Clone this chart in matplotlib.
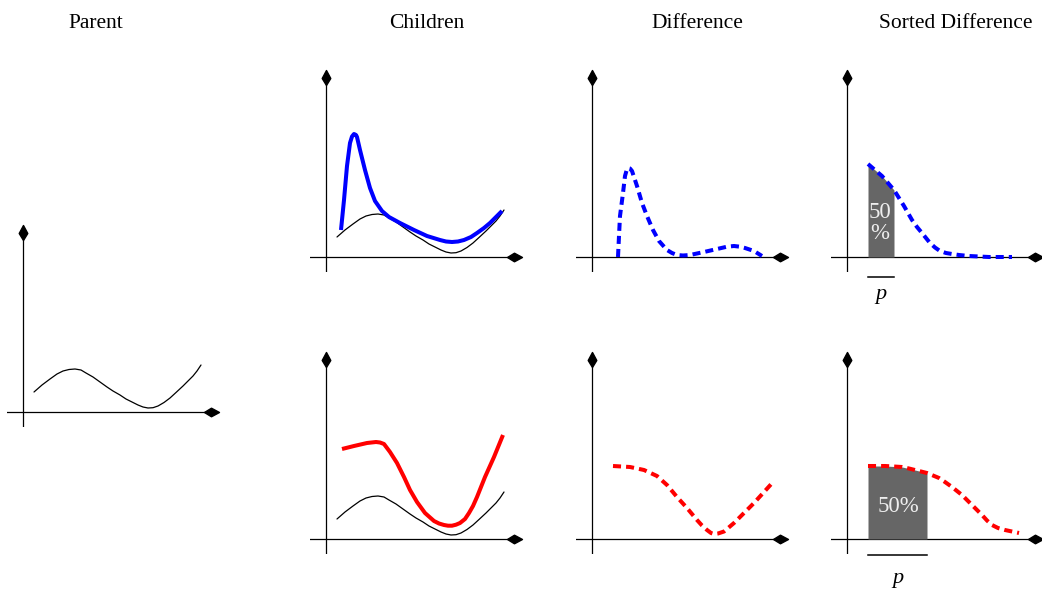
import numpy as np
import matplotlib
matplotlib.use("Agg")
import matplotlib.pyplot as plt
from matplotlib.path import Path

# ---- curve data (x along the horizontal axis, y above it) ----
parent_x = [11, 19, 27, 34, 40, 46, 52, 58, 63, 70, 77, 84, 90, 97, 103, 109, 115, 120, 125, 130, 135, 141, 147, 153, 160, 165, 170, 174, 178]
parent_y = [20, 27, 33, 38, 41, 42.5, 43, 42, 39, 35, 30, 25, 21, 17, 13, 10, 7, 5, 4, 4.3, 6, 9.5, 14, 19.5, 26, 31, 36, 41, 47]

child_blue_x = [15, 18, 21, 24, 26, 28, 30, 31, 34, 39, 44, 49, 56, 63, 74, 88, 101, 114, 120, 126, 132, 138, 145, 151, 158, 164, 170, 176]
child_blue_y = [27, 57, 91, 114, 120.5, 123, 122, 120, 107, 87, 69, 56, 46, 40, 34, 27, 21, 17, 15.5, 15, 15.5, 17, 20, 24, 29, 34, 40, 46]

child_red_x = [16, 28, 41, 50, 54, 58, 64, 71, 78, 84, 91, 99, 108, 113, 118, 122, 126, 130, 134, 139, 143, 147, 151, 159, 168, 177]
child_red_y = [90, 93, 96, 97, 96.5, 95, 87, 76, 62, 49, 37, 26, 18, 15.5, 14, 13.3, 13.3, 14.3, 16, 20, 26, 33, 42, 62, 82, 104]

diff_blue_x = [26, 27, 28, 31, 33, 35, 36, 38, 40, 45, 50, 55, 61, 67, 75, 80, 85, 91, 98, 112, 125, 135, 142, 148, 153, 162, 170]
diff_blue_y = [0, 21, 41, 64, 81, 88, 89, 88.5, 86, 71, 54, 41, 27, 16, 7, 4, 2, 1.5, 2, 5, 8, 10.3, 11, 10.3, 9, 6, 1]

diff_red_x = [21, 38, 52, 65, 75, 85, 95, 105, 110, 115, 119, 122, 126, 132, 142, 152, 162, 172, 182]
diff_red_y = [73, 72, 69, 63, 54, 42, 31, 19, 13.5, 9, 6, 5, 5.5, 7.5, 16, 26, 36, 47, 58]

sorted_blue_x = [21, 28, 35, 41, 47, 52, 57, 61, 65, 70, 75, 83, 88, 93, 99, 105, 112, 122, 142, 165]
sorted_blue_y = [93, 87, 81, 74, 67, 59, 51, 44, 37, 30, 24, 14, 9.5, 6, 4, 3, 2, 1, 0, 0]

sorted_red_x = [21, 30, 38, 47, 55, 62, 68, 74, 80, 86, 92, 98, 105, 115, 125, 135, 140, 145, 151, 158, 165, 172]
sorted_red_y = [73, 73, 73, 72.5, 72, 70.5, 69, 67.5, 66, 63.5, 61, 57, 52, 44, 34, 24, 18.5, 14, 11, 9, 7.5, 6]

# extent of the top-p share on the sorted difference
p_blue = (21, 47)
p_red = (21, 80)

titles = ["Parent", "Children", "Difference", "Sorted Difference"]
share_label = "50%"

BLUE = "#0000ff"
RED = "#ff0000"
GREY = "#666666"
SERIF = ["Liberation Serif", "DejaVu Serif"]

W, H = 1042, 589
fig = plt.figure(figsize=(W / 100, H / 100), dpi=100)

XMIN, XMAX = -16, 196
YMIN, YMAX = -15, 187

# arrow heads for the axes (kite shape, tip at the origin)
arrow_right = Path([(0, 0), (-8, 4.3), (-15, 0), (-8, -4.3), (0, 0)],
                   [Path.MOVETO, Path.LINETO, Path.LINETO, Path.LINETO, Path.CLOSEPOLY])
arrow_up = Path([(0, 0), (4.3, -8), (0, -15), (-4.3, -8), (0, 0)],
                [Path.MOVETO, Path.LINETO, Path.LINETO, Path.LINETO, Path.CLOSEPOLY])


def panel(ox, oy):
    """Axes whose origin sits at pixel (ox, oy) of the figure."""
    rect = [(ox + XMIN) / W, (H - (oy - YMIN)) / H,
            (XMAX - XMIN) / W, (YMAX - YMIN) / H]
    ax = fig.add_axes(rect)
    ax.set_xlim(XMIN, XMAX)
    ax.set_ylim(YMIN, YMAX)
    ax.axis("off")
    ax.plot([XMIN, XMAX - 4], [0, 0], color="black", lw=0.9, zorder=1)
    ax.plot([0, 0], [YMIN, YMAX - 4], color="black", lw=0.9, zorder=1)
    ax.plot([XMAX], [0], marker=arrow_right, ms=21.6, color="black",
            clip_on=False, zorder=5)
    ax.plot([0], [YMAX], marker=arrow_up, ms=21.6, color="black",
            clip_on=False, zorder=5)
    return ax


thin = dict(color="black", lw=0.9, solid_capstyle="round", solid_joinstyle="round")
thick = dict(lw=2.9, solid_capstyle="butt", solid_joinstyle="round")
dashed = dict(lw=2.9, ls=(0, (2.0, 1.25)), dash_capstyle="butt")

# Parent
ax = panel(23, 412)
ax.plot(parent_x, parent_y, **thin)

# Children
ax = panel(326, 257)
ax.plot(parent_x, parent_y, **thin)
ax.plot(child_blue_x, child_blue_y, color=BLUE, **thick)

ax = panel(326, 539)
ax.plot(parent_x, parent_y, **thin)
ax.plot(child_red_x, child_red_y, color=RED, **thick)

# Difference
ax = panel(592, 257)
ax.plot(diff_blue_x, diff_blue_y, color=BLUE, **dashed)

ax = panel(592, 539)
ax.plot(diff_red_x, diff_red_y, color=RED, **dashed)

# Sorted difference with the top-p share shaded
def sorted_panel(oy, xs, ys, color, p, label_pos, label_text, bar_y, p_y):
    ax = panel(847, oy)
    xs = np.asarray(xs, float)
    ys = np.asarray(ys, float)
    ax.fill_between(xs, 0, ys, where=(xs >= p[0]) & (xs <= p[1]),
                    color=GREY, lw=0, zorder=2)
    ax.plot(xs, ys, color=color, zorder=3, **dashed)
    ax.text(label_pos[0], label_pos[1], label_text, color="#eeeeee",
            ha="center", va="center", fontsize=16.5, family=SERIF,
            linespacing=0.95, zorder=4)
    ax.plot(list(p), [bar_y, bar_y], color="black", lw=1.1, clip_on=False)
    ax.text((p[0] + p[1]) / 2, p_y, "p", fontsize=16, style="italic",
            family=SERIF, ha="center", va="center")
    return ax


sorted_panel(257, sorted_blue_x, sorted_blue_y, BLUE, p_blue,
             (33, 34), share_label.replace("%", "\n%"), -20, -38)
sorted_panel(539, sorted_red_x, sorted_red_y, RED, p_red,
             (51, 32), share_label, -16, -39)

# column titles
for xc, t in zip([96, 427, 697, 956], titles):
    fig.text(xc / W, 1 - 28 / H, t, ha="center", va="baseline",
             fontsize=15.5, family=SERIF)

fig.savefig("out.png", dpi=100)
